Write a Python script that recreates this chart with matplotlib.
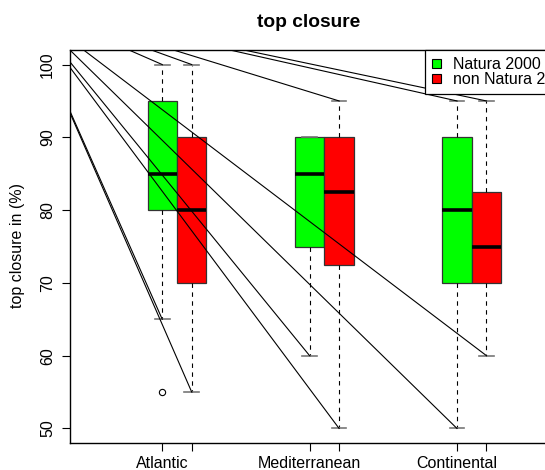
import matplotlib
matplotlib.use("Agg")
from matplotlib import pyplot as plt
from matplotlib.patches import Patch

plt.rcParams['font.family'] = ['Liberation Sans', 'DejaVu Sans']

regions = ['Atlantic', 'Mediterranean', 'Continental']
groups = ['Natura 2000', 'non Natura 2000']
colors = ['#00ff00', '#ff0000']

# whisker low, q1, median, q3, whisker high
natura = [[65, 80, 85, 95, 100], [60, 75, 85, 90, 90], [50, 70, 80, 90, 95]]
non_natura = [[55, 70, 80, 90, 100], [50, 72.5, 82.5, 90, 95], [60, 70, 75, 82.5, 95]]
natura_fliers = [[55], [], []]
non_natura_fliers = [[], [], []]

# the stray lines: all start from one point up left, end on whisker ends
line_origin = (-0.05, 108.4)
natura_line_ends = [[65, 100], [60], [50, 95]]
non_natura_line_ends = [[55, 100], [50, 95], [60, 95]]

yticks = [50, 60, 70, 80, 90, 100]

fig = plt.figure(figsize=(5.45, 4.70), dpi=100)
ax = fig.add_axes([69.7 / 545, 27 / 470, 509.3 / 545, 393 / 470])

offset = 0.1
stats, pos, fills = [], [], []
for i, reg in enumerate(regions):
    for g, (vals, fl) in enumerate([(natura[i], natura_fliers[i]), (non_natura[i], non_natura_fliers[i])]):
        lo, q1, med, q3, hi = vals
        stats.append(dict(whislo=lo, q1=q1, med=med, q3=q3, whishi=hi, fliers=fl, label=''))
        pos.append(i + 1 + (offset if g else -offset))
        fills.append(colors[g])

bp = ax.bxp(stats, positions=pos, widths=0.2, capwidths=0.1, patch_artist=True,
            boxprops=dict(edgecolor='#333333', linewidth=0.9),
            whiskerprops=dict(color='black', linewidth=0.8, linestyle=(0, (4, 4))),
            capprops=dict(color='#777777', linewidth=1.2),
            medianprops=dict(color='black', linewidth=2.6, solid_capstyle='butt'),
            flierprops=dict(marker='o', markerfacecolor='none', markeredgecolor='black',
                            markersize=4.5, markeredgewidth=0.8))
for patch, c in zip(bp['boxes'], fills):
    patch.set_facecolor(c)

# stray lines
for i in range(len(regions)):
    for g, ends in enumerate([natura_line_ends[i], non_natura_line_ends[i]]):
        x = i + 1 + (offset if g else -offset)
        for y in ends:
            ax.plot([line_origin[0], x], [line_origin[1], y], color='black', lw=0.8, zorder=4)

ax.set_xlim(0.272, 3.728)
ax.set_ylim(48, 102)
ax.set_xticks(pos)
ax.set_xticklabels([regions[0], '', regions[1], '', regions[2], ''], fontsize=11.5)
ax.set_yticks(yticks)
ax.set_yticklabels([str(v) for v in yticks], fontsize=11.5, rotation=90, va='center')
ax.tick_params(axis='both', length=5.5, width=0.8, color='black')
ax.tick_params(axis='y', pad=5)
ax.tick_params(axis='x', pad=4)
for s in ax.spines.values():
    s.set_linewidth(1.0)
    s.set_color('black')

handles = [Patch(facecolor=c, edgecolor='black', linewidth=0.8) for c in colors]
leg = ax.legend(handles, groups, loc='upper right', bbox_to_anchor=(1, 1), borderaxespad=0,
                fancybox=False, framealpha=1, edgecolor='black', fontsize=11.5,
                handlelength=0.55, handleheight=0.55, handletextpad=0.75,
                labelspacing=0.0, borderpad=0.45)
leg.get_frame().set_linewidth(0.9)

fig.text(309 / 545, 1 - 27 / 470, 'top closure', ha='center', va='baseline',
         fontsize=13.8, fontweight='bold')
fig.text(18 / 545, 1 - 246 / 470, 'top closure in (%)', ha='center', va='center',
         rotation=90, fontsize=11.5)

fig.savefig('out.png', dpi=100)
